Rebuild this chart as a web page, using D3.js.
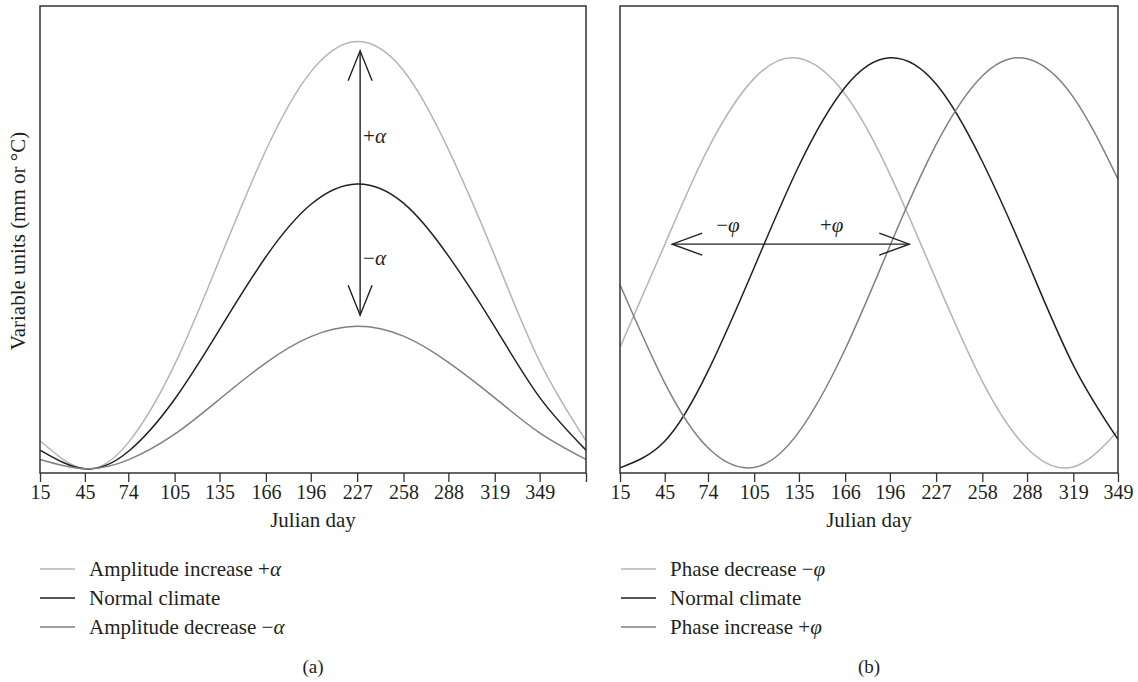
<!DOCTYPE html>
<html>
<head>
<meta charset="utf-8">
<script src="https://cdn.jsdelivr.net/npm/d3@7"></script>
<style>
  body { margin: 0; background: #fff; }
  text { font-family: "Liberation Serif", "DejaVu Serif", serif; fill: #231f20; }
</style>
</head>
<body>
<div id="chart-area"></div>
<script>
// (y in arbitrary units, 0 = axis line, 100 = top of frame)
const daysA = [15, 45, 74, 105, 135, 166, 196, 227, 258, 288, 319, 349, 380]
const ampIncrease = [6.9, 0.9, 6.5, 23.2, 45.7, 69.1, 85.9, 92.4, 86.2, 69.3, 46.5, 23.9, 6.9]
const normalA     = [4.9, 0.9, 4.6, 15.8, 30.7, 46.3, 57.5, 61.9, 57.8, 46.5, 31.3, 16.2, 4.9]
const ampDecrease = [2.9, 0.9, 2.8, 8.3, 15.8, 23.6, 29.2, 31.4, 29.3, 23.7, 16.1, 8.6, 2.9]

const daysB = [15, 45, 74, 105, 135, 166, 196, 227, 258, 288, 319, 349]
const phaseDecrease = [26.9, 48.9, 69.4, 84.5, 88.8, 81.1, 64.0, 41.4, 19.6, 5.3, 1.3, 9.0]
const normalB       = [1.1, 6.8, 21.8, 44.0, 65.8, 82.6, 88.9, 83.3, 66.7, 45.5, 23.1, 7.2]
const phaseIncrease = [40.3, 19.3, 5.4, 1.2, 8.8, 26.5, 48.6, 70.3, 85.0, 88.7, 80.5, 62.9]

const tickLabelsA = ["15", "45", "74", "105", "135", "166", "196", "227", "258", "288", "319", "349", ""]
const tickLabelsB = ["15", "45", "74", "105", "135", "166", "196", "227", "258", "288", "319", "349"]

const legendA = ["Amplitude increase +", "Normal climate", "Amplitude decrease \u2212"]
const legendB = ["Phase decrease \u2212", "Normal climate", "Phase increase +"]
const legendGreekA = ["\u03b1", "", "\u03b1"]
const legendGreekB = ["\u03c6", "", "\u03c6"]

// annotation arrows: [day, value]
const alphaArrow = [[229, 90.4], [229, 33.8]]
const phiArrow = [[50, 49.0], [209, 49.0]]

const colors = ["#b5b5b5", "#231f20", "#808080"]

const svgWidth = 1138
const svgHeight = 682
const plotTop = 6
const plotBottom = 473
const fontSize = "21px"

const svg = d3.select("#chart-area")
    .append("svg")
    .attr("width", svgWidth)
    .attr("height", svgHeight)

const yScale = d3.scaleLinear()
    .domain([0, 100])
    .range([plotBottom, plotTop])

function drawPanel(opts) {
    const xScale = d3.scaleLinear()
        .domain(opts.domain)
        .range(opts.range)

    const g = svg.append("g")

    // curves
    opts.series.forEach((vals, i) => {
        const pts = opts.days.map((d, j) => [d, vals[j]])
        const line = d3.line()
            .x(d => xScale(d[0]))
            .y(d => yScale(d[1]))
            .curve(d3.curveNatural)
        g.append("path")
            .attr("d", line(pts))
            .attr("fill", "none")
            .attr("stroke", colors[i])
            .attr("stroke-width", 1.5)
    })

    // frame
    g.append("rect")
        .attr("x", opts.range[0])
        .attr("y", plotTop)
        .attr("width", opts.range[1] - opts.range[0])
        .attr("height", plotBottom - plotTop)
        .attr("fill", "none")
        .attr("stroke", "#333")
        .attr("stroke-width", 1.5)

    const xAxis = g.append("g")
        .attr("transform", `translate(0,${plotBottom})`)
        .call(d3.axisBottom(xScale)
            .tickValues(opts.days)
            .tickFormat((d, i) => opts.labels[i])
            .tickSize(9)
            .tickSizeOuter(0)
            .tickPadding(3))
    xAxis.select(".domain").remove()
    xAxis.selectAll(".tick line").attr("stroke", "#333").attr("stroke-width", 1.3)
    xAxis.selectAll(".tick text")
        .style("font-family", "'Liberation Serif', serif")
        .style("font-size", "20px")
        .attr("fill", "#231f20")

    const mid = (opts.range[0] + opts.range[1]) / 2
    g.append("text")
        .attr("x", mid)
        .attr("y", 527)
        .attr("text-anchor", "middle")
        .style("font-size", fontSize)
        .text("Julian day")

    // legend
    opts.legend.forEach((lab, i) => {
        const y = 569 + i * 29
        g.append("line")
            .attr("x1", opts.legendX)
            .attr("x2", opts.legendX + 35)
            .attr("y1", y)
            .attr("y2", y)
            .attr("stroke", colors[i])
            .attr("stroke-width", 1.5)
        const t = g.append("text")
            .attr("x", opts.legendX + 49)
            .attr("y", y + 7)
            .style("font-size", fontSize)
        t.append("tspan").text(lab)
        t.append("tspan").style("font-style", "italic").text(opts.greek[i])
    })

    g.append("text")
        .attr("x", mid)
        .attr("y", 673)
        .attr("text-anchor", "middle")
        .style("font-size", "19px")
        .text(opts.tag)

    return { g, xScale }
}

const a = drawPanel({
    domain: [15, 380], range: [40, 586], days: daysA,
    series: [ampIncrease, normalA, ampDecrease],
    labels: tickLabelsA, legend: legendA, greek: legendGreekA,
    legendX: 40, tag: "(a)"
})

const b = drawPanel({
    domain: [15, 349], range: [620, 1118], days: daysB,
    series: [phaseDecrease, normalB, phaseIncrease],
    labels: tickLabelsB, legend: legendB, greek: legendGreekB,
    legendX: 621, tag: "(b)"
})

// y title
svg.append("text")
    .attr("transform", "translate(25,241) rotate(-90)")
    .attr("text-anchor", "middle")
    .style("font-size", fontSize)
    .text("Variable units (mm or \u00b0C)")

// vertical arrow, panel a
{
    const x = a.xScale(alphaArrow[0][0])
    const y1 = yScale(alphaArrow[0][1])
    const y2 = yScale(alphaArrow[1][1])
    const arr = a.g.append("g").attr("fill", "none").attr("stroke", "#231f20").attr("stroke-width", 1.4)
    arr.append("path").attr("d", `M${x},${y1}V${y2}`)
    arr.append("path").attr("d", `M${x - 12},${y1 + 30}L${x},${y1}L${x + 12},${y1 + 30}`)
    arr.append("path").attr("d", `M${x - 12},${y2 - 30}L${x},${y2}L${x + 12},${y2 - 30}`)
    const plus = a.g.append("text").attr("x", x + 3).attr("y", yScale(72.2) + 7).style("font-size", fontSize)
    plus.append("tspan").text("+")
    plus.append("tspan").style("font-style", "italic").text("\u03b1")
    const minus = a.g.append("text").attr("x", x + 3).attr("y", yScale(46.1) + 7).style("font-size", fontSize)
    minus.append("tspan").text("\u2212")
    minus.append("tspan").style("font-style", "italic").text("\u03b1")
}

// horizontal arrow, panel b
{
    const x1 = b.xScale(phiArrow[0][0])
    const x2 = b.xScale(phiArrow[1][0])
    const y = yScale(phiArrow[0][1])
    const arr = b.g.append("g").attr("fill", "none").attr("stroke", "#231f20").attr("stroke-width", 1.4)
    arr.append("path").attr("d", `M${x1},${y}H${x2}`)
    arr.append("path").attr("d", `M${x1 + 30},${y - 11}L${x1},${y}L${x1 + 30},${y + 11}`)
    arr.append("path").attr("d", `M${x2 - 30},${y - 11}L${x2},${y}L${x2 - 30},${y + 11}`)
    const minus = b.g.append("text").attr("x", b.xScale(87.4)).attr("y", yScale(53.1) + 7)
        .attr("text-anchor", "middle").style("font-size", fontSize)
    minus.append("tspan").text("\u2212")
    minus.append("tspan").style("font-style", "italic").text("\u03c6")
    const plus = b.g.append("text").attr("x", b.xScale(157)).attr("y", yScale(53.1) + 7)
        .attr("text-anchor", "middle").style("font-size", fontSize)
    plus.append("tspan").text("+")
    plus.append("tspan").style("font-style", "italic").text("\u03c6")
}
</script>
</body>
</html>
